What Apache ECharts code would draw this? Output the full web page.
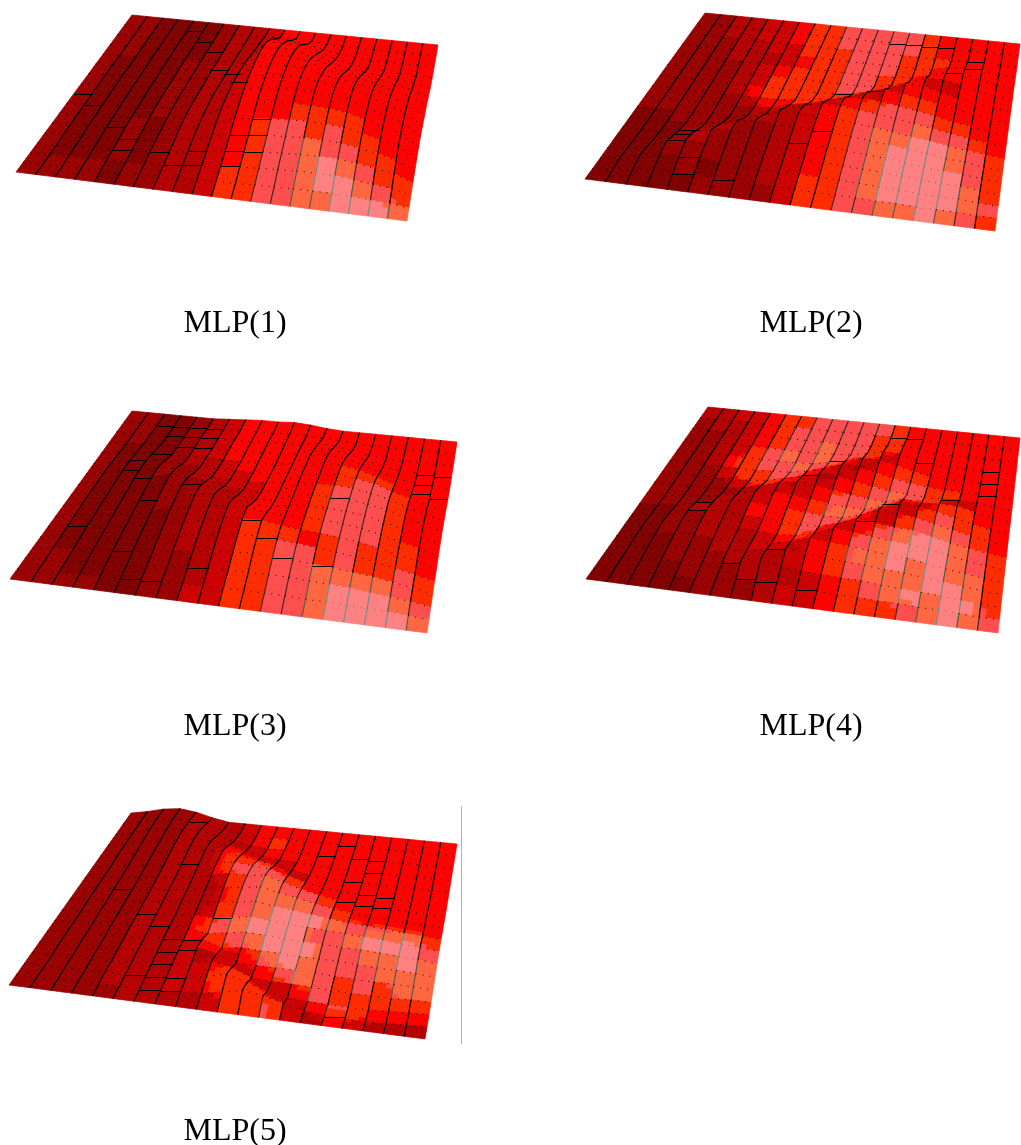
<!DOCTYPE html>
<html><head><meta charset="utf-8">
<style>html,body{margin:0;padding:0;background:#fff}#c{width:1021px;height:1145px}</style>
<script src="https://cdn.jsdelivr.net/npm/echarts@6/dist/echarts.min.js"></script>
</head><body><div id="c"></div>
<script>
// Mesh size: 20 strips by 16 rows, back row first.
const panelNames = ['MLP(1)','MLP(2)','MLP(3)','MLP(4)','MLP(5)'];
const shadePalette = ['#800000','#990000','#b30000','#cc0000','#ff0000','#ff2b00','#ff4d4d','#ff6640','#ff8080'];

// Shade level of every mesh cell, one string per row, one digit per strip.
const levels1 = ["11000012234444444444","11000012234444444444","11000012234444444444","11000012234444444444","10000112234444444444","10000112234444444444","10000112234444444444","10000112234444444444","10000112234444444444","10000112234444444444","10001012234445555444","10001012234566565544","10001012234566766554","10001012234566787655","11110112235566788765","11110112235566778887"];
const levels2 = ["11223345566666544444","11223345566666544444","11122335556665554444","11122234556665544444","11112345556655444444","11112355556655432444","11112455555532444444","11111244555324554444","11111123323456665544","00111122234566676654","00011122234567788765","00012211234567888765","00012111234567888865","00011111234567888875","00001011235567888876","00000111135566778765"];
const levels3 = ["11001234444444444444","11001234444444444444","11001234444444444444","10001234444444444444","10001223444444444444","10001123344444555444","10001122334444566544","10000112234445666544","10000112234445666544","10000112234445666544","10000012234445666554","10000012235554565554","10000012235566565565","11000011235566777765","11000011235566788876","11110011335566788887"];
const levels4 = ["22334556666654444444","12234566666554444444","11234566766554444444","11235676766534444444","11255667663245544444","11135566432456655444","11113554324567653344","11111232346676335544","11112234457763256554","00122244566632567654","00112234564246788765","00112223452467888765","00011223324577878775","00011122234567778875","00001112223456787885","00000111233455567876"];
const levels5 = ["11112223444444444444","11112223454444444444","11112222344444444444","11112225333444444444","11112225563344444444","11112225666544444444","11112222567665444444","11112222567776544444","11112222567888767785","11112225678886678886","11112224567888667787","11112223434787666777","11112223233468656577","11112223355324755555","11112223355532465444","11111222235563243222"];

// Surface height above the base plane at every mesh node, one list per strip edge, back to front.
const heights1 = [
[0,0,0,0,0,0,0,0,0,0,0,0,0,0,0,0,0],[0,0,0,0,0,1,1,1,1,1,1,1,1,0,0,0,0],[0,0,1,1,1,1,2,2,2,2,2,2,1,1,1,0,0],
[0,0,1,1,2,2,2,3,3,3,3,3,2,2,1,1,0],[0,0,1,2,2,3,3,4,4,4,4,4,3,2,2,1,0],[0,1,1,2,3,4,4,5,6,6,6,5,4,3,2,1,0],
[0,1,2,3,4,5,6,7,8,8,8,7,6,5,3,2,0],[0,1,2,4,5,7,8,9,10,11,11,10,8,6,4,2,0],[0,1,3,5,7,9,11,13,15,15,15,14,12,9,6,3,0],
[0,2,6,10,14,18,21,23,24,24,23,20,16,12,8,4,0],[0,3,12,22,30,34,36,36,36,34,30,26,20,15,10,5,0],[0,3,12,22,30,36,39,40,40,38,34,28,22,16,11,5,0],
[0,2,10,20,30,36,40,42,42,40,36,30,24,18,12,6,0],[0,1,6,14,22,30,36,40,42,41,37,31,25,19,13,6,0],[0,0,3,9,16,24,31,36,40,40,37,32,26,20,14,7,0],
[0,0,1,5,11,19,27,33,37,38,36,31,26,20,14,7,0],[0,0,0,3,10,18,26,32,36,36,34,30,25,20,14,7,0],[0,0,0,2,8,15,22,27,30,30,29,26,22,18,12,6,0],
[0,0,0,1,6,12,17,21,24,24,24,22,19,15,10,5,0],[0,0,0,0,4,8,13,16,18,19,19,18,15,12,8,4,0],[0,0,0,0,1,3,5,6,7,8,8,7,6,5,4,2,0]];
const heights2 = [
[0,0,0,0,0,0,0,0,0,0,0,0,0,0,0,0,0],[0,0,0,0,0,0,0,0,0,0,0,0,1,2,3,2,0],[0,0,0,0,0,0,0,0,0,0,0,1,3,6,8,5,0],
[0,0,0,0,0,0,0,0,0,0,1,4,9,14,11,6,0],[0,0,0,0,0,0,0,0,0,0,2,7,14,18,13,7,0],[0,0,0,0,0,0,0,0,0,1,6,13,20,17,12,6,0],
[0,0,0,0,0,0,0,0,1,4,11,20,21,16,11,6,0],[0,0,0,0,0,0,0,0,3,8,16,23,19,15,10,5,0],[0,0,0,0,0,0,0,2,8,16,24,21,18,14,10,5,0],
[0,0,0,0,0,0,0,4,11,20,24,21,17,13,9,5,0],[0,0,0,0,0,0,1,7,16,24,22,20,17,13,9,5,0],[0,0,0,0,0,0,3,11,21,24,22,19,16,12,8,4,0],
[0,0,0,0,0,1,7,17,23,22,20,18,15,11,8,4,0],[0,0,0,0,1,4,12,22,21,20,18,16,13,10,7,4,0],[0,0,0,0,2,9,19,20,19,18,16,14,12,9,6,3,0],
[0,0,0,1,6,15,18,17,16,15,13,12,10,8,5,3,0],[0,0,0,4,11,15,14,14,13,12,11,10,8,6,4,2,0],[0,0,1,6,11,11,10,10,9,9,8,7,6,5,3,2,0],
[0,0,2,5,7,7,7,7,7,6,6,6,5,5,4,2,0],[0,0,0,2,4,4,4,4,4,4,4,3,3,3,2,1,0],[0,0,0,1,2,2,2,2,2,2,2,2,2,1,1,1,0]];
const heights3 = [
[0,0,0,0,0,0,0,0,0,0,0,0,0,0,0,0,0],[0,0,0,1,2,3,4,4,4,4,3,3,2,2,1,1,0],[0,0,1,2,4,6,7,7,6,6,5,5,4,3,2,1,0],
[0,0,1,3,6,10,11,11,10,9,8,7,6,5,3,2,0],[0,1,2,3,5,10,15,16,15,13,12,10,9,7,5,2,0],[0,1,3,4,5,9,16,20,20,18,16,14,12,9,6,3,0],
[1,2,3,4,6,8,13,20,24,23,21,18,15,11,8,4,0],[2,2,4,5,6,8,11,18,25,27,25,22,18,14,9,5,0],[3,3,4,5,6,8,10,15,23,29,28,25,21,16,11,5,0],
[3,3,5,6,7,8,10,13,19,27,31,28,24,18,12,6,0],[4,4,5,6,7,9,11,13,17,24,32,31,26,20,13,7,0],[3,3,6,8,10,12,14,16,18,22,28,32,28,22,14,7,0],
[1,3,9,15,20,22,24,25,26,27,28,29,26,21,14,7,0],[0,2,8,16,22,25,26,27,28,28,28,27,25,20,14,7,0],[0,0,5,13,20,25,27,28,28,28,28,26,23,18,13,6,0],
[0,0,2,9,16,22,25,27,27,27,26,24,21,17,12,6,0],[0,0,0,4,10,17,22,24,25,25,24,22,19,15,11,5,0],[0,0,0,2,6,11,16,20,21,21,20,18,16,13,9,5,0],
[0,0,0,1,3,6,11,14,16,16,15,14,12,10,7,4,0],[0,0,0,0,1,3,6,9,11,11,11,10,8,7,5,3,0],[0,0,0,0,0,1,3,4,5,5,5,4,4,3,2,1,0]];
const heights4 = [
[0,0,0,0,0,0,0,0,0,0,0,0,0,0,0,0,0],[0,0,0,0,0,0,0,0,0,1,2,3,3,2,2,1,0],[0,0,0,0,0,0,0,0,1,3,6,8,7,6,4,2,0],
[0,0,0,0,0,0,0,1,3,7,11,12,10,8,6,3,0],[0,0,0,0,0,0,0,2,6,11,14,13,11,9,6,3,0],[0,0,0,0,0,0,1,5,10,15,14,12,10,8,6,3,0],
[0,0,0,0,0,1,3,9,15,15,13,11,10,10,7,4,0],[0,0,0,0,0,2,7,14,16,14,12,11,12,14,15,7,0],[0,0,0,0,1,5,11,17,15,13,10,9,12,17,20,10,0],
[0,0,0,1,4,10,16,15,13,11,10,11,16,21,14,7,0],[0,0,0,2,8,15,15,13,11,10,11,16,22,18,12,6,0],[0,0,1,5,12,14,12,10,9,10,16,23,20,16,11,6,0],
[0,0,3,9,12,11,9,8,9,15,23,21,19,15,10,5,0],[0,1,5,8,8,7,6,7,14,23,21,19,17,14,10,5,0],[0,0,3,4,4,4,5,12,21,21,19,17,15,12,8,4,0],
[0,0,0,0,1,2,4,10,18,19,18,16,14,11,7,4,0],[0,0,0,0,0,1,4,11,15,15,14,13,11,9,6,3,0],[0,0,0,0,0,1,5,11,11,11,10,10,8,7,5,3,0],
[0,0,0,0,0,1,4,7,7,7,7,6,6,5,3,2,0],[0,0,0,0,0,0,2,3,3,4,4,4,3,3,2,1,0],[0,0,0,0,0,0,0,1,2,2,2,2,2,2,1,1,0]];
const heights5 = [
[0,0,0,0,0,0,0,0,0,0,0,0,0,0,0,0,0],[3,3,3,3,3,2,2,2,2,1,1,1,1,0,0,0,0],[7,8,8,7,6,5,4,4,3,3,2,2,2,1,1,0,0],
[9,10,10,9,8,7,6,5,5,4,4,3,2,2,1,1,0],[7,10,12,12,11,9,8,7,6,5,5,4,3,2,2,1,0],[3,8,13,15,14,12,10,9,8,7,6,5,4,3,2,1,0],
[0,3,9,15,17,15,13,11,10,8,8,7,6,4,3,1,0],[0,1,5,12,18,18,16,14,12,10,8,7,6,5,3,2,0],[0,0,2,8,15,20,20,18,14,9,5,11,14,10,7,4,0],
[0,0,1,5,12,18,20,19,16,12,8,4,10,14,10,5,0],[0,0,1,3,9,17,22,22,19,15,11,7,3,10,15,8,0],[0,0,0,2,6,12,17,18,16,13,10,6,3,2,9,13,0],
[0,0,0,1,3,7,12,15,14,12,9,6,3,1,3,10,0],[0,0,0,0,1,4,8,11,12,11,8,5,3,1,-1,5,0],[0,0,0,0,1,2,5,8,10,10,8,5,3,0,-2,0,0],
[0,0,0,0,0,1,3,6,8,9,7,5,2,0,-3,-2,0],[0,0,0,0,0,1,2,4,7,8,7,4,1,-1,-3,-3,0],[0,0,0,0,0,0,2,3,6,7,6,3,1,-1,-3,-3,0],
[0,0,0,0,0,0,1,2,4,5,5,3,1,-1,-2,-2,0],[0,0,0,0,0,0,1,2,3,4,4,2,1,0,-1,-1,0],[0,0,0,0,0,0,0,1,2,2,2,1,0,0,0,0,0]];

// Row edges that print as solid ticks: [strip, row].
const ticks1 = [[0,8],[1,9],[3,11],[4,12],[4,13],[6,13],[7,14],[8,14],[8,13],[4,1],[5,2],[6,3],[7,5],[8,6],[9,8],[11,11],[10,12],[11,12],[10,13],[11,13],[10,14]];
const ticks2 = [[12,1],[13,1],[14,1],[15,1],[17,2],[17,3],[16,4],[10,6],[12,7],[10,11],[9,12],[3,11],[3,12],[3,13],[4,14],[4,15],[6,15]];
const ticks3 = [[2,1],[3,1],[4,1],[5,1],[3,2],[4,2],[5,2],[3,4],[4,3],[5,3],[2,5],[2,6],[3,7],[6,8],[4,9],[1,11],[4,13],[5,15],[6,15],[8,14],[10,11],[11,12],[12,13],[14,13],[14,8],[18,3],[18,4],[18,5],[19,3],[19,5]];
const ticks4 = [[12,1],[13,1],[14,3],[9,4],[8,6],[3,9],[3,10],[8,13],[6,14],[7,15],[8,15],[10,15],[12,10],[13,8],[16,6],[18,3],[18,4],[18,5]];
const ticks5 = [[4,1],[5,5],[2,7],[4,9],[5,10],[6,11],[7,11],[6,12],[7,12],[6,13],[6,14],[5,14],[7,14],[6,15],[7,15],[8,9],[13,1],[12,2],[14,2],[15,2],[15,3],[14,4],[15,5],[16,5],[14,6],[15,6],[16,6],[15,15]];

// Camera view of each surface: where the base plane's corners land on the panel's axes.
const views = [
 {back:[[132,15],[438,45]], front:[[16,172],[407,221]]},
 {back:[[705,13],[1020,44]], front:[[585,179],[995,231]]},
 {back:[[132,411],[457,442]], front:[[10,579],[427,633]]},
 {back:[[708,407],[1020,438]], front:[[586,579],[998,633]]},
 {back:[[131,813],[457,844]], front:[[9,985],[425,1039]]}
];
const panelBoxes = [[0,0,470,250],[570,0,451,250],[0,400,470,240],[570,400,451,240],[0,800,470,250]];
const labelSpots = [[230,303],[806,303],[230,706],[806,706],[230,1111]];
const allLevels = [levels1,levels2,levels3,levels4,levels5];
const allHeights = [heights1,heights2,heights3,heights4,heights5];
const allTicks = [ticks1,ticks2,ticks3,ticks4,ticks5];
const STRIPS = 20, ROWS = 16, SUB = 3;

function nodeOf(p, c, r){
  const v = views[p], u = c/STRIPS, t = r/ROWS;
  const bx = v.back[0][0]+(v.back[1][0]-v.back[0][0])*u, by = v.back[0][1]+(v.back[1][1]-v.back[0][1])*u;
  const fx = v.front[0][0]+(v.front[1][0]-v.front[0][0])*u, fy = v.front[0][1]+(v.front[1][1]-v.front[0][1])*u;
  return [bx+(fx-bx)*t, by+(fy-by)*t-(allHeights[p][c][r]||0)];
}
function lineTint(level){ return level>=8?'#6f8f88':level==7?'#4f5f50':level==6?'#402828':'#000'; }
// Shade seen at a mesh corner: the mean of the cells touching it.
function cornerShade(p,c,r){
  let s=0,n=0;
  for(const [dc,dr] of [[-1,-1],[0,-1],[-1,0],[0,0]]){
    const row=allLevels[p][r+dr];
    if(row && row[c+dc]!==undefined){ s+=+row[c+dc]; n++; }
  }
  return s/n;
}

const grids=[],xAxes=[],yAxes=[],series=[],titles=[];
panelBoxes.forEach((b,p)=>{
  grids.push({left:b[0],top:b[1],width:b[2],height:b[3]});
  xAxes.push({type:'value',gridIndex:p,min:b[0],max:b[0]+b[2],show:false});
  yAxes.push({type:'value',gridIndex:p,min:b[1],max:b[1]+b[3],inverse:true,show:false});
  const cells=[];
  allLevels[p].forEach((row,r)=>{ for(let c=0;c<STRIPS;c++) cells.push([c,r,+row[c]]); });
  const tickSet=new Set(allTicks[p].map(t=>t[0]+'_'+t[1]));
  series.push({type:'custom',xAxisIndex:p,yAxisIndex:p,silent:true,animation:false,progressive:0,clip:false,z:2,data:cells,
    renderItem(params,api){
      const c=api.value(0),r=api.value(1),lv=api.value(2);
      const n=[[c,r],[c+1,r],[c+1,r+1],[c,r+1]].map(q=>nodeOf(p,q[0],q[1]));
      const s=[cornerShade(p,c,r),cornerShade(p,c+1,r),cornerShade(p,c+1,r+1),cornerShade(p,c,r+1)];
      const at=(a,b)=>api.coord([
        (n[0][0]*(1-a)+n[1][0]*a)*(1-b)+(n[3][0]*(1-a)+n[2][0]*a)*b,
        (n[0][1]*(1-a)+n[1][1]*a)*(1-b)+(n[3][1]*(1-a)+n[2][1]*a)*b]);
      const kids=[];
      for(let j=0;j<SUB;j++) for(let i=0;i<SUB;i++){
        const a=(i+.5)/SUB,b=(j+.5)/SUB;
        const mix=(s[0]*(1-a)+s[1]*a)*(1-b)+(s[3]*(1-a)+s[2]*a)*b;
        const col=shadePalette[Math.round(.55*lv+.45*mix)];
        kids.push({type:'polygon',shape:{points:[at(i/SUB,j/SUB),at((i+1)/SUB,j/SUB),at((i+1)/SUB,(j+1)/SUB),at(i/SUB,(j+1)/SUB)]},
          style:{fill:col,stroke:col,lineWidth:0.7}});
      }
      return {type:'group',children:kids};
    }});
  series.push({type:'custom',xAxisIndex:p,yAxisIndex:p,silent:true,animation:false,progressive:0,clip:false,z:3,data:cells,
    renderItem(params,api){
      const c=api.value(0),r=api.value(1),lv=api.value(2),kids=[];
      const a=api.coord(nodeOf(p,c,r)),b=api.coord(nodeOf(p,c+1,r)),d=api.coord(nodeOf(p,c,r+1));
      if(c>0) kids.push({type:'line',shape:{x1:a[0],y1:a[1],x2:d[0],y2:d[1]},style:{stroke:lineTint(lv),lineWidth:1.2,fill:null}});
      if(r>0){
        if(tickSet.has(c+'_'+r)){
          const m=Math.round((a[1]+b[1])/2)+0.5;
          kids.push({type:'line',shape:{x1:a[0],y1:m,x2:b[0],y2:m},style:{stroke:'#000',lineWidth:1,fill:null}});
        } else {
          kids.push({type:'line',shape:{x1:a[0],y1:a[1],x2:b[0],y2:b[1]},style:{stroke:lv>=8?'#5a6a60':'#000',lineWidth:1,lineDash:[1,6],fill:null}});
        }
      }
      return {type:'group',children:kids};
    }});
  titles.push({text:panelNames[p],left:labelSpots[p][0],top:labelSpots[p][1],textAlign:'center',
    textStyle:{fontFamily:'Liberation Serif',fontSize:32,fontWeight:'normal',color:'#000'}});
});

const chart=echarts.init(document.getElementById('c'),null,{renderer:'canvas'});
chart.setOption({animation:false,backgroundColor:'#fff',title:titles,grid:grids,xAxis:xAxes,yAxis:yAxes,series,
  graphic:[{type:'line',silent:true,shape:{x1:461.5,y1:806,x2:461.5,y2:1044},style:{stroke:'#b4b4a4',lineWidth:1}}]});
</script></body></html>
